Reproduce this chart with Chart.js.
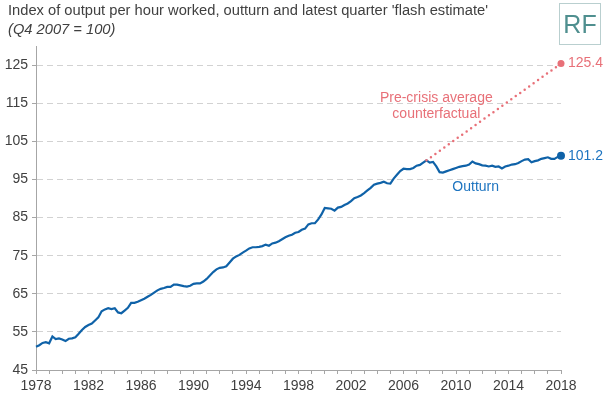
<!DOCTYPE html>
<html>
<head>
<meta charset="utf-8">
<script src="https://cdn.jsdelivr.net/npm/chart.js@4"></script>
<style>
  html, body { margin: 0; padding: 0; background: #fff; }
  #wrap { position: relative; width: 605px; height: 397px; overflow: hidden; }
  #c { position: absolute; left: 0; top: 0; }
  .title { position: absolute; left: 8px; top: 2px; font: 14.7px "Liberation Sans", Arial, sans-serif; color: #404040; white-space: nowrap; }
  .sub { position: absolute; left: 8px; top: 21px; font: italic 14.7px "Liberation Sans", Arial, sans-serif; color: #404040; white-space: nowrap; }
  .rf { position: absolute; left: 559px; top: 3px; width: 42px; height: 42px; border: 1px solid #b9cfcf; box-sizing: border-box;
        font: 25px "Liberation Sans", Arial, sans-serif; color: #4f8f8f; text-align: center; line-height: 40px; }
</style>
</head>
<body>
<div id="wrap">
  <canvas id="c" width="605" height="397"></canvas>
  <div class="title">Index of output per hour worked, outturn and latest quarter 'flash estimate'</div>
  <div class="sub">(Q4 2007 = 100)</div>
  <div class="rf">RF</div>
</div>
<script>
// ---- data ----
const startYear = 1978;
const endYear = 2018;
const yTickLabels = [45, 55, 65, 75, 85, 95, 105, 115, 125];

// Outturn, quarterly 1978 Q1 .. 2018 Q1
const outturn = [
  51.1, 51.5, 52.1, 52.3, 52.0, 53.8, 53.1, 53.3, 53.0, 52.6,
  53.2, 53.3, 53.6, 54.5, 55.5, 56.3, 56.8, 57.2, 58.0, 58.8,
  60.4, 60.9, 61.2, 61.0, 61.2, 60.1, 59.9, 60.6, 61.3, 62.6,
  62.6, 62.9, 63.3, 63.7, 64.2, 64.7, 65.3, 65.9, 66.3, 66.5,
  66.8, 66.8, 67.4, 67.4, 67.2, 67.0, 66.9, 67.1, 67.6, 67.7,
  67.7, 68.2, 68.9, 69.8, 70.7, 71.4, 71.8, 71.9, 72.2, 73.2,
  74.2, 74.8, 75.2, 75.8, 76.3, 76.9, 77.2, 77.2, 77.3, 77.5,
  77.9, 77.6, 78.2, 78.4, 78.8, 79.3, 79.8, 80.2, 80.5, 81.0,
  81.2, 81.8, 82.1, 83.2, 83.5, 83.5, 84.5, 85.8, 87.5, 87.4,
  87.3, 86.8, 87.6, 87.8, 88.3, 88.7, 89.3, 90.1, 90.4, 90.8,
  91.4, 92.1, 92.8, 93.6, 93.9, 94.1, 94.4, 94.0, 93.9, 95.2,
  96.2, 97.2, 97.8, 97.7, 97.7, 98.0, 98.6, 98.8, 99.4, 100.0,
  99.4, 99.6, 98.4, 96.9, 96.8, 97.1, 97.4, 97.7, 98.0, 98.3,
  98.5, 98.6, 98.9, 99.7, 99.2, 99.0, 98.7, 98.6, 98.4, 98.6,
  98.3, 98.4, 97.9, 98.4, 98.6, 98.9, 99.0, 99.3, 99.8, 100.2,
  100.3, 99.5, 99.8, 100.0, 100.4, 100.6, 100.8, 100.4, 100.4, 100.9,
  101.2
];

// Pre-crisis average counterfactual: starts Q4 2007 (=100), ends at latest quarter
const cfStartIndex = 119;
const cfStartValue = 100.0;
const cfEndValue = 125.4;

// ---- build categories ----
const categories = [];
for (let y = startYear; y <= endYear; y++) {
  for (let q = 1; q <= 4; q++) {
    if (categories.length < outturn.length) categories.push(y + ' Q' + q);
  }
}
const lastIndex = outturn.length - 1;
const counterfactual = outturn.map((v, i) => i === cfStartIndex ? cfStartValue : (i === lastIndex ? cfEndValue : null));

const BLUE = '#0f62a8';
const BLUE_TXT = '#1d74c0';
const RED = '#e87078';
const AXIS_TXT = '#404040';
const FONT = '"Liberation Sans", Arial, sans-serif';

const annotations = {
  id: 'annotations',
  afterDatasetsDraw(chart) {
    const { ctx, scales: { x, y } } = chart;
    ctx.save();
    ctx.font = '14px ' + FONT;
    ctx.textBaseline = 'middle';
    ctx.textAlign = 'left';
    ctx.fillStyle = RED;
    ctx.fillText(String(cfEndValue), x.getPixelForValue(lastIndex) + 7, y.getPixelForValue(cfEndValue));
    ctx.fillStyle = BLUE_TXT;
    ctx.fillText(String(outturn[lastIndex]), x.getPixelForValue(lastIndex) + 7, y.getPixelForValue(outturn[lastIndex]));
    ctx.textAlign = 'center';
    ctx.fillStyle = RED;
    ctx.fillText('Pre-crisis average', x.getPixelForValue(122), y.getPixelForValue(116.2));
    ctx.fillText('counterfactual', x.getPixelForValue(122), y.getPixelForValue(112.2));
    ctx.fillStyle = BLUE_TXT;
    ctx.fillText('Outturn', x.getPixelForValue(134), y.getPixelForValue(93.1));
    ctx.restore();
  }
};

new Chart(document.getElementById('c'), {
  type: 'line',
  data: {
    labels: categories,
    datasets: [
      {
        label: 'Pre-crisis average counterfactual',
        data: counterfactual,
        spanGaps: true,
        borderColor: RED,
        backgroundColor: RED,
        borderWidth: 2.5,
        borderDash: [0, 5.5],
        borderCapStyle: 'round',
        pointRadius: ctx => ctx.dataIndex === lastIndex ? 3.5 : 0,
        pointBorderWidth: 0,
        tension: 0
      },
      {
        label: 'Outturn',
        data: outturn,
        borderColor: BLUE,
        backgroundColor: BLUE,
        borderWidth: 2.2,
        pointRadius: ctx => ctx.dataIndex === lastIndex ? 4 : 0,
        pointBorderWidth: 0,
        tension: 0
      }
    ]
  },
  options: {
    responsive: false,
    animation: false,
    events: [],
    layout: { padding: { top: 46, right: 44, left: 0, bottom: 0 } },
    plugins: { legend: { display: false }, tooltip: { enabled: false }, title: { display: false } },
    scales: {
      x: {
        type: 'category',
        afterFit: s => { s.height = 27; },
        grid: {
          drawOnChartArea: false,
          drawTicks: true,
          tickLength: 4,
          tickColor: ctx => (ctx.index % 4 === 0) ? '#a6a6a6' : 'rgba(0,0,0,0)'
        },
        border: { display: true, color: '#a6a6a6', width: 1 },
        ticks: {
          autoSkip: false,
          maxRotation: 0,
          padding: 4,
          color: AXIS_TXT,
          font: { size: 14, family: FONT },
          callback: function(val, idx) { return idx % 16 === 0 ? String(startYear + idx / 4) : ''; }
        }
      },
      y: {
        min: 45,
        max: 130,
        afterFit: s => { s.width = 36; },
        afterBuildTicks: s => {
          const t = [];
          for (let v = 45; v <= 130; v += 5) t.push({ value: v });
          s.ticks = t;
        },
        grid: {
          color: ctx => ctx.tick && ctx.tick.value === 45 ? 'rgba(0,0,0,0)' : '#d2d2d2',
          lineWidth: 1,
          drawTicks: true,
          tickLength: 4,
          tickColor: ctx => (ctx.tick && yTickLabels.includes(ctx.tick.value)) ? '#a6a6a6' : 'rgba(0,0,0,0)'
        },
        border: { display: true, color: '#a6a6a6', width: 1, dash: [6, 4] },
        ticks: {
          padding: 4,
          color: AXIS_TXT,
          font: { size: 14, family: FONT },
          callback: v => yTickLabels.includes(v) ? String(v) : ''
        }
      }
    }
  },
  plugins: [annotations]
});
</script>
</body>
</html>
